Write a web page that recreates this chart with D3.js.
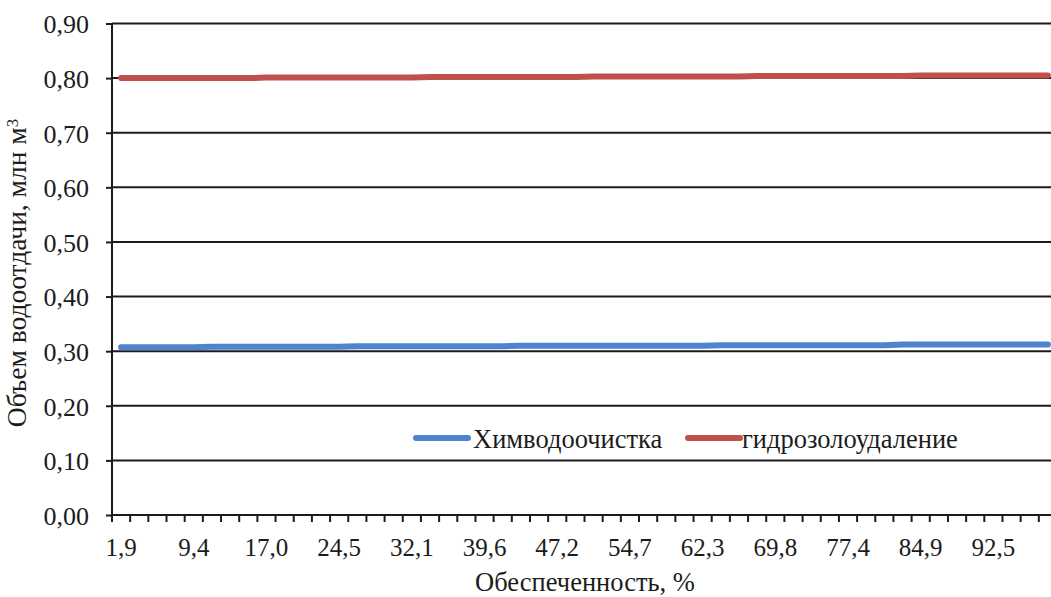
<!DOCTYPE html>
<html>
<head>
<meta charset="utf-8">
<script src="https://cdn.jsdelivr.net/npm/d3@7"></script>
<style>
  html, body { margin: 0; padding: 0; background: #ffffff; }
  svg { display: block; font-family: "Liberation Serif", "Times New Roman", serif; }
</style>
</head>
<body>
<svg id="chart" width="1051" height="597"></svg>
<script>
// ---- data ----
const categories = [1.9,3.8,5.7,7.5,9.4,11.3,13.2,15.1,17.0,18.9,20.8,22.6,24.5,26.4,28.3,30.2,32.1,34.0,35.8,37.7,
  39.6,41.5,43.4,45.3,47.2,49.1,50.9,52.8,54.7,56.6,58.5,60.4,62.3,64.2,66.0,67.9,69.8,71.7,73.6,75.5,
  77.4,79.2,81.1,83.0,84.9,86.8,88.7,90.6,92.5,94.3,96.2,98.1];
const seriesNames = ["Химводоочистка", "гидрозолоудаление"];
const khimvodoochistka = [0.307,0.307,0.307,0.307,0.307,0.308,0.308,0.308,0.308,0.308,0.308,0.308,0.308,
  0.309,0.309,0.309,0.309,0.309,0.309,0.309,0.309,0.309,0.310,0.310,0.310,0.310,0.310,0.310,0.310,0.310,
  0.310,0.310,0.310,0.311,0.311,0.311,0.311,0.311,0.311,0.311,0.311,0.311,0.311,0.312,0.312,0.312,0.312,
  0.312,0.312,0.312,0.312,0.312];
const gidrozoloudalenie = [0.800,0.800,0.800,0.800,0.800,0.800,0.800,0.800,0.801,0.801,0.801,0.801,0.801,
  0.801,0.801,0.801,0.801,0.802,0.802,0.802,0.802,0.802,0.802,0.802,0.802,0.802,0.803,0.803,0.803,0.803,
  0.803,0.803,0.803,0.803,0.803,0.804,0.804,0.804,0.804,0.804,0.804,0.804,0.804,0.804,0.805,0.805,0.805,
  0.805,0.805,0.805,0.805,0.805];
const yTicks = [0,0.1,0.2,0.3,0.4,0.5,0.6,0.7,0.8,0.9];
const xAxisTitle = "Обеспеченность, %";
const yAxisTitle = "Объем водоотдачи, млн м";
const colors = ["#4f83d1", "#c0504d"];

// ---- layout ----
const svg = d3.select("#chart");
const plotLeft = 112, plotRight = 1057, plotTop = 23.5, plotBottom = 515;
const ink = "#1c1c1c";

const x = d3.scaleBand().domain(categories.map((d, i) => i)).range([plotLeft, plotRight]).padding(0);
const y = d3.scaleLinear().domain([0, 0.9]).range([plotBottom, plotTop]);
const fmt = v => d3.format(".2f")(v).replace(".", ",");
const fmt1 = v => d3.format(".1f")(v).replace(".", ",");

// y ticks + labels
const yAxis = d3.axisLeft(y).tickValues(yTicks).tickFormat(fmt).tickSize(6).tickPadding(17);
const gy = svg.append("g").attr("transform", `translate(${plotLeft},0)`).call(yAxis);
gy.select(".domain").remove();
gy.selectAll(".tick line").attr("stroke", ink).attr("stroke-width", 2);
gy.selectAll(".tick text").attr("fill", ink).style("font-size", "26px")
  .style("font-family", "Liberation Serif").attr("dy", "0.36em");
// gridlines
svg.append("g").selectAll("line").data(yTicks).join("line")
  .attr("x1", plotLeft).attr("x2", 1051)
  .attr("y1", d => y(d)).attr("y2", d => y(d))
  .attr("stroke", ink).attr("stroke-width", 2);

// y axis line
svg.append("line").attr("x1", plotLeft).attr("x2", plotLeft).attr("y1", plotTop).attr("y2", plotBottom + 7)
  .attr("stroke", ink).attr("stroke-width", 2);

// x ticks at category boundaries
const boundaries = categories.map((d, i) => x(i)).concat([x(categories.length - 1) + x.bandwidth()]);
svg.append("g").selectAll("line").data(boundaries).join("line")
  .attr("x1", d => d).attr("x2", d => d).attr("y1", plotBottom).attr("y2", plotBottom + 7)
  .attr("stroke", ink).attr("stroke-width", 2);

// x labels every 4th category
svg.append("g").selectAll("text").data(categories.map((d, i) => ({d, i})).filter(o => o.i % 4 === 0))
  .join("text")
  .attr("x", o => x(o.i) + x.bandwidth() / 2)
  .attr("y", 556)
  .attr("text-anchor", "middle")
  .attr("fill", ink)
  .style("font-size", "25px")
  .text(o => fmt1(o.d));

// series lines
const line = d3.line().x((d, i) => x(i) + x.bandwidth() / 2).y(d => y(d));
[khimvodoochistka, gidrozoloudalenie].forEach((s, k) => {
  svg.append("path").datum(s).attr("d", line).attr("fill", "none")
    .attr("stroke", colors[k]).attr("stroke-width", 6).attr("stroke-linecap", "round");
});

// legend
const legendItems = [{x1: 416, x2: 468, tx: 473}, {x1: 688, x2: 740, tx: 742}];
legendItems.forEach((l, k) => {
  svg.append("line").attr("x1", l.x1).attr("x2", l.x2).attr("y1", 438).attr("y2", 438)
    .attr("stroke", colors[k]).attr("stroke-width", 6).attr("stroke-linecap", "round");
  svg.append("text").attr("x", l.tx).attr("y", 448).attr("fill", ink)
    .style("font-size", "26.5px").text(seriesNames[k]);
});

// axis titles
svg.append("text").attr("x", 585).attr("y", 591).attr("text-anchor", "middle").attr("fill", ink)
  .style("font-size", "26.5px").text(xAxisTitle);
const yt = svg.append("text").attr("transform", "translate(26,273) rotate(-90)")
  .attr("text-anchor", "middle").attr("fill", ink).style("font-size", "27.5px");
yt.append("tspan").text(yAxisTitle);
yt.append("tspan").attr("dy", "-0.45em").style("font-size", "17px").text("3");
</script>
</body>
</html>
